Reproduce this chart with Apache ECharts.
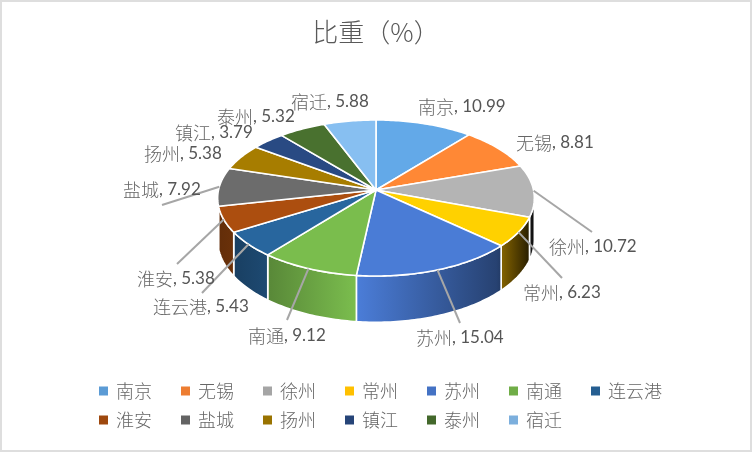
<!DOCTYPE html>
<html><head><meta charset="utf-8">
<style>html,body{margin:0;padding:0;background:#fff}#c{width:752px;height:452px}</style>
<script src="https://cdn.jsdelivr.net/npm/echarts@6/dist/echarts.min.js"></script>
</head><body><div id="c"></div>
<script>
const categories = ['南京','无锡','徐州','常州','苏州','南通','连云港','淮安','盐城','扬州','镇江','泰州','宿迁'];
const values = [10.99,8.81,10.72,6.23,15.04,9.12,5.43,5.38,7.92,5.38,3.79,5.32,5.88];
const legendColors = ['#5b9bd5','#ed7d31','#a5a5a5','#ffc000','#4472c4','#70ad47','#255e91','#9e480e','#636363','#997300','#264478','#43682b','#7cafdd'];
// label layout: [left x, centre y, leader end x, leader end y] (leader end null = no leader)
const labelLayout = [
 [418,107,null,null],[516,143,null,null],[549,247,592,232],[523,293,562,278],
 [416,338,460,323],[248,336,287,320],[153,307,202,293],[137,279,177,264],
 [123,190,162,205],[144,154,null,null],[175,133,null,null],[217,117,null,null],[291,102,null,null]];
// pie geometry (perspective projection of a disc)
const CX=376, CY=190, RX=157.5, RY=77.2, K=0.1026, DEPTH=41.5;
const total = values.reduce((a,b)=>a+b,0);
const starts=[]; let run=0; values.forEach(v=>{starts.push(run/total*360);run+=v;});
function project(deg){const t=deg*Math.PI/180,X=Math.sin(t),Y=Math.cos(t),w=1+K*Y;
  return {x:CX+RX*X/w,y:CY-RY*Y/w,d:DEPTH/w};}
function shade(hex,f){const n=parseInt(hex.slice(1),16);
  const c=[n>>16,(n>>8)&255,n&255].map(v=>Math.min(255,Math.round(v*f)));
  return 'rgb('+c.join(',')+')';}
const edgeDeg=Math.acos(-K)*180/Math.PI; // where the wall turns out of sight
const xMin=CX-RX*1.0053,xMax=CX+RX*1.0053;
const TEXT='#666666';
function sideFill(col){return {type:'linear',x:xMin,y:0,x2:xMax,y2:0,global:true,colorStops:[
  {offset:0,color:shade(col,.62)},{offset:.17,color:shade(col,.8)},{offset:.44,color:shade(col,1.1)},
  {offset:.88,color:shade(col,.58)},{offset:.97,color:shade(col,.22)},{offset:1,color:shade(col,.08)}]};}
function renderSlice(i){return function(params,api){
  const a0=starts[i],span=api.value(0)/total*360,a1=a0+span,col=legendColors[i];
  const kids=[],top=[[CX,CY]];
  for(let a=a0;;a+=1){const q=Math.min(a,a1),p=project(q);top.push([p.x,p.y]);if(a>=a1)break;}
  kids.push({type:'polygon',z2:2,shape:{points:top},style:{fill:shade(col,1.09),stroke:'#fff',lineWidth:1.6,lineJoin:'round'}});
  const lo=Math.max(a0,edgeDeg),hi=Math.min(a1,360-edgeDeg);
  if(hi>lo){const up=[],dn=[];
    for(let a=lo;;a+=1){const q=Math.min(a,hi),p=project(q);up.push([p.x,p.y]);dn.unshift([p.x,p.y+p.d]);if(a>=hi)break;}
    kids.push({type:'polygon',z2:1,shape:{points:up.concat(dn)},style:{fill:sideFill(col),stroke:'#fff',lineWidth:1.6,lineJoin:'round'}});}
  const L=labelLayout[i];
  if(L[2]!==null){const m=project(a0+span/2);
    kids.push({type:'line',z2:3,shape:{x1:m.x,y1:m.y,x2:L[2],y2:L[3]},style:{stroke:'#a6a6a6',lineWidth:2}});}
  kids.push({type:'text',z2:4,style:{x:L[0],y:L[1],verticalAlign:'middle',align:'left',
    text:'{a|'+categories[i]+'}{b|, '+api.value(0).toFixed(2)+'}',
    rich:{a:{fontFamily:'"Noto Sans CJK SC"',fontSize:18,fontWeight:300,fill:TEXT,color:TEXT},
          b:{fontFamily:'Lato',fontSize:17,fill:'#555',color:'#555'}}}});
  return {type:'group',children:kids};
};}
function legendRow(names,top){return {left:94,top:top,itemWidth:9,itemHeight:9,itemGap:29,icon:'rect',data:names,
  textStyle:{fontFamily:'"Noto Sans CJK SC"',fontSize:18,fontWeight:300,color:TEXT,padding:[0,0,0,3]}};}
const chart=echarts.init(document.getElementById('c'),null,{renderer:'canvas'});
chart.setOption({animation:false,backgroundColor:'#fff',
  title:{text:'比重（%）',left:'center',top:14,textStyle:{fontFamily:'"Noto Sans CJK SC"',fontSize:26,fontWeight:300,color:'#595959'}},
  graphic:[{type:'rect',silent:true,shape:{x:1,y:1,width:750,height:450},style:{fill:'none',stroke:'#dedede',lineWidth:2}}],
  legend:[legendRow(categories.slice(0,7),377),legendRow(categories.slice(7),406)],
  series:categories.map((n,i)=>({type:'custom',name:n,coordinateSystem:'none',silent:true,
    itemStyle:{color:legendColors[i]},renderItem:renderSlice(i),data:[{name:n,value:values[i]}]}))
});
</script></body></html>
